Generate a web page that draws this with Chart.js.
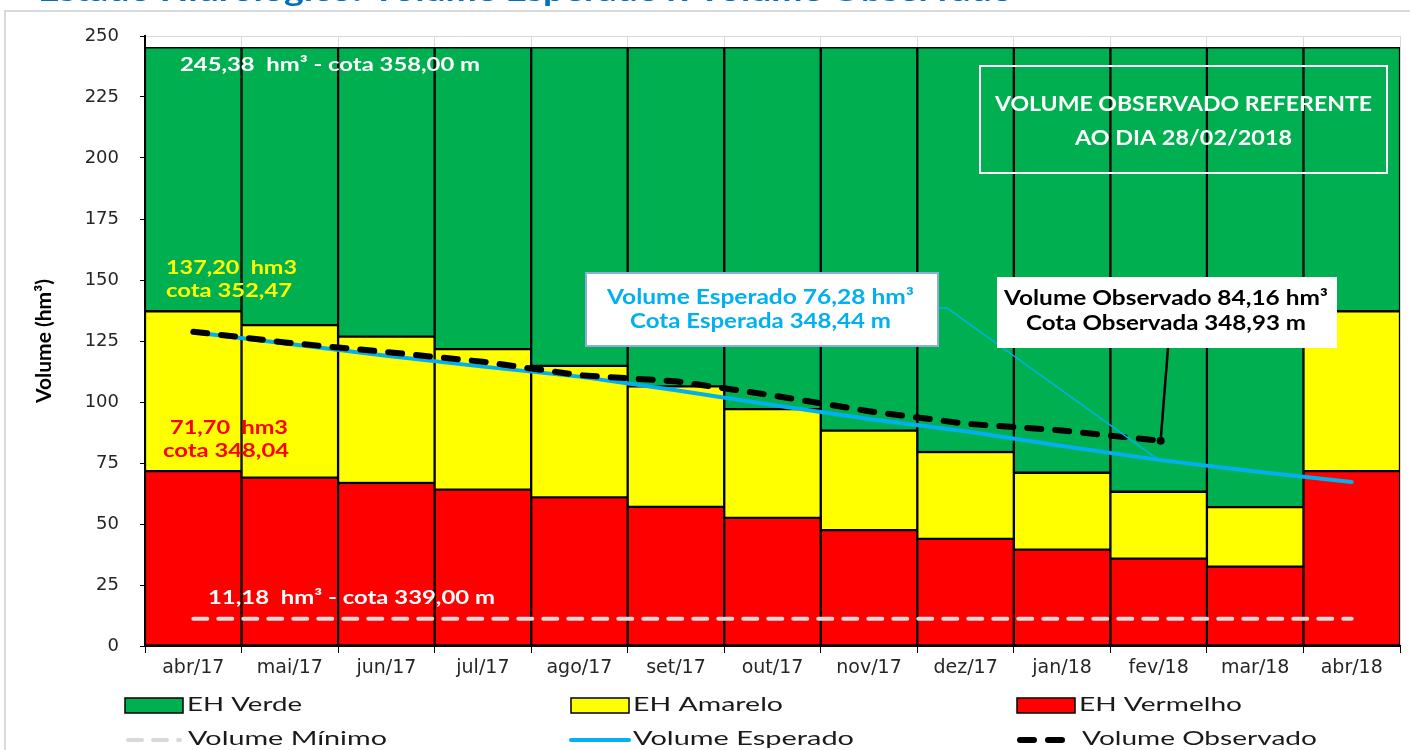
<!DOCTYPE html>
<html lang="pt-BR">
<head>
<meta charset="utf-8">
<title>Volume Esperado x Volume Observado</title>
<script src="https://cdn.jsdelivr.net/npm/chart.js@4.4.1/dist/chart.umd.min.js"></script>
<style>
    html, body { margin: 0; padding: 0; background: #fff; }
    #wrap { position: relative; width: 1410px; height: 750px; }
</style>
</head>
<body>
<div id="wrap"><canvas id="volumeChart"></canvas></div>
<script>
// Dados (hm³)
const meses = ['abr/17', 'mai/17', 'jun/17', 'jul/17', 'ago/17', 'set/17', 'out/17',
               'nov/17', 'dez/17', 'jan/18', 'fev/18', 'mar/18', 'abr/18'];
const topoVermelho = [71.7, 69.0, 66.8, 64.1, 60.9, 57.0, 52.5, 47.5, 43.9, 39.5, 35.8, 32.5, 71.7];
const topoAmarelo  = [137.2, 131.5, 126.8, 121.7, 114.8, 106.4, 97.1, 88.3, 79.5, 71.0, 63.2, 56.9, 137.2];
const topoVerde    = [245.38, 245.38, 245.38, 245.38, 245.38, 245.38, 245.38,
                      245.38, 245.38, 245.38, 245.38, 245.38, 245.38];
const volumeMinimo = [11.18, 11.18, 11.18, 11.18, 11.18, 11.18, 11.18,
                      11.18, 11.18, 11.18, 11.18, 11.18, 11.18];
const volumeEsperado  = [128.6, 123.8, 119.0, 114.5, 110.4, 104.8, 98.8, 93.0, 88.0, 82.0, 76.28, 71.5, 67.2];
const volumeObservado = [128.8, 124.2, 120.5, 116.5, 111.0, 108.5, 102.7, 96.2, 91.1, 88.3, 84.16, null, null];
const IDX_REFERENCIA = 10; // fev/18

const FONT = "'Lato', 'Liberation Sans', sans-serif";
const TICK_FONT = "'DejaVu Sans', Verdana, sans-serif";

const faixa = (base, topo) => topo.map((t, i) => [base ? base[i] : 0, t]);

const barBase = {
    type: 'bar',
    borderColor: '#000',
    borderWidth: 1.5,
    borderSkipped: false,
    barPercentage: 1,
    categoryPercentage: 1,
    grouped: false,
    order: 3
};

// texto com largura ajustada (o original está esticado na horizontal)
function drawText(ctx, text, x, y, width, align, font, color) {
    ctx.save();
    ctx.font = font;
    ctx.fillStyle = color;
    const sx = width ? width / ctx.measureText(text).width : 1;
    ctx.translate(x, y);
    ctx.scale(sx, 1);
    ctx.textAlign = align;
    ctx.textBaseline = 'middle';
    ctx.fillText(text, 0, 0);
    ctx.restore();
}

const decoracao = {
    id: 'decoracao',
    beforeDraw(chart) {
        const ctx = chart.ctx;
        ctx.save();
        ctx.strokeStyle = '#d9d9d9';
        ctx.lineWidth = 2;
        ctx.beginPath();
        ctx.moveTo(5, 750);
        ctx.lineTo(5, 11);
        ctx.lineTo(1410, 11);
        ctx.stroke();
        ctx.restore();
        // título (cortado no topo da imagem)
        ctx.save();
        ctx.font = 'bold 28px ' + FONT;
        ctx.fillStyle = '#0070c0';
        const t = 'Estado Hidrológico: Volume Esperado x Volume Observado';
        const sx = 975 / ctx.measureText(t).width;
        ctx.translate(38, 1);
        ctx.scale(sx, 1);
        ctx.textBaseline = 'alphabetic';
        ctx.fillText(t, 0, 0);
        ctx.restore();
    },
    afterDatasetsDraw(chart) {
        const ctx = chart.ctx;
        const x = chart.scales.x, y = chart.scales.y;
        const bold19 = 'bold 19px ' + FONT;
        const bold20 = 'bold 20px ' + FONT;

        drawText(ctx, '245,38  hm³ - cota 358,00 m', 180, 65, 300, 'left', bold19, '#fff');
        drawText(ctx, '137,20  hm3', 166, 268, 131, 'left', bold19, '#ffff00');
        drawText(ctx, 'cota 352,47', 166, 291, 126, 'left', bold19, '#ffff00');
        drawText(ctx, '71,70  hm3', 170, 428, 118, 'left', bold19, '#ff0000');
        drawText(ctx, 'cota 348,04', 163, 451, 126, 'left', bold19, '#ff0000');
        drawText(ctx, '11,18  hm³ - cota 339,00 m', 208, 598, 287, 'left', bold19, '#fff');

        // caixa verde
        ctx.save();
        ctx.strokeStyle = '#fff';
        ctx.lineWidth = 2;
        ctx.strokeRect(980, 66, 407, 107);
        ctx.restore();
        drawText(ctx, 'VOLUME OBSERVADO REFERENTE', 1183.5, 104, 377, 'center', 'bold 21px ' + FONT, '#fff');
        drawText(ctx, 'AO DIA 28/02/2018', 1183.5, 138, 217, 'center', 'bold 21px ' + FONT, '#fff');

        // chamada - volume esperado
        const ex = x.getPixelForValue(IDX_REFERENCIA);
        const ey = y.getPixelForValue(volumeEsperado[IDX_REFERENCIA]);
        ctx.save();
        ctx.strokeStyle = '#00b0f0';
        ctx.lineWidth = 1.5;
        ctx.beginPath();
        ctx.moveTo(938, 308);
        ctx.lineTo(947, 308);
        ctx.lineTo(ex, ey);
        ctx.stroke();
        ctx.fillStyle = '#fff';
        ctx.fillRect(586, 273, 352, 73);
        ctx.strokeStyle = '#8faadc';
        ctx.lineWidth = 2;
        ctx.strokeRect(586, 273, 352, 73);
        ctx.restore();
        drawText(ctx, 'Volume Esperado 76,28 hm³', 760.5, 298, 307, 'center', bold20, '#00b0f0');
        drawText(ctx, 'Cota Esperada 348,44 m', 760.5, 322, 261, 'center', bold20, '#00b0f0');

        // chamada - volume observado
        const ox = x.getPixelForValue(IDX_REFERENCIA);
        const oy = y.getPixelForValue(volumeObservado[IDX_REFERENCIA]);
        ctx.save();
        ctx.strokeStyle = '#000';
        ctx.fillStyle = '#000';
        ctx.lineWidth = 2.5;
        ctx.beginPath();
        ctx.moveTo(1168, 348);
        ctx.lineTo(ox + 2, oy);
        ctx.stroke();
        ctx.beginPath();
        ctx.arc(ox + 2, oy, 4, 0, Math.PI * 2);
        ctx.fill();
        ctx.fillStyle = '#fff';
        ctx.fillRect(997, 277, 340, 71);
        ctx.restore();
        drawText(ctx, 'Volume Observado 84,16 hm³', 1166, 299, 324, 'center', bold20, '#000');
        drawText(ctx, 'Cota Observada 348,93 m', 1166, 324, 280, 'center', bold20, '#000');
    },
    afterDraw(chart) {
        // legenda em grade 3 x 2
        const ctx = chart.ctx;
        const ds = label => chart.data.datasets.find(d => d.label === label);
        const cols = [125, 571, 1017];
        const font = '19px ' + FONT;
        const caixas = [
            ['EH Verde', 115], ['EH Amarelo', 150], ['EH Vermelho', 163]
        ];
        caixas.forEach(([label, w], i) => {
            const d = ds(label);
            ctx.save();
            ctx.fillStyle = d.backgroundColor;
            ctx.fillRect(cols[i], 698, 58, 15);
            ctx.strokeStyle = '#000';
            ctx.lineWidth = 1.5;
            ctx.strokeRect(cols[i], 698, 58, 15);
            ctx.restore();
            drawText(ctx, label, cols[i] + 62, 705, w, 'left', font, '#1a1a1a');
        });
        const linhas = [
            ['Volume Mínimo', 199, 63], ['Volume Esperado', 221, 62], ['Volume Observado', 235, 65]
        ];
        linhas.forEach(([label, w, off], i) => {
            const d = ds(label);
            ctx.save();
            ctx.strokeStyle = d.borderColor;
            ctx.lineWidth = d.borderWidth;
            ctx.lineCap = d.borderCapStyle || 'butt';
            ctx.setLineDash(d.borderDash || []);
            ctx.beginPath();
            const x0 = cols[i] + (d.borderDash ? 3 : 0);
            ctx.moveTo(x0, 740);
            ctx.lineTo(cols[i] + 58 - (d.borderDash ? 3 : 0), 740);
            ctx.stroke();
            ctx.restore();
            drawText(ctx, label, cols[i] + off, 739, w, 'left', font, '#1a1a1a');
        });
    }
};

const canvas = document.getElementById('volumeChart');
new Chart(canvas.getContext('2d'), {
    type: 'bar',
    data: {
        labels: meses,
        datasets: [
            {
                type: 'line', label: 'Volume Observado', data: volumeObservado,
                borderColor: '#000', borderWidth: 6, borderDash: [14, 14], borderCapStyle: 'round',
                pointRadius: 0, tension: 0, order: 0
            },
            {
                type: 'line', label: 'Volume Esperado', data: volumeEsperado,
                borderColor: '#00b0f0', borderWidth: 4, borderCapStyle: 'round',
                pointRadius: 0, tension: 0, order: 1
            },
            {
                type: 'line', label: 'Volume Mínimo', data: volumeMinimo,
                borderColor: '#d9d9d9', borderWidth: 4, borderDash: [14, 11], borderCapStyle: 'round',
                pointRadius: 0, tension: 0, order: 2
            },
            { ...barBase, label: 'EH Vermelho', data: faixa(null, topoVermelho), backgroundColor: '#ff0000' },
            { ...barBase, label: 'EH Amarelo', data: faixa(topoVermelho, topoAmarelo), backgroundColor: '#ffff00' },
            { ...barBase, label: 'EH Verde', data: faixa(topoAmarelo, topoVerde), backgroundColor: '#00b050' }
        ]
    },
    options: {
        responsive: true,
        maintainAspectRatio: false,
        animation: false,
        layout: { padding: { top: 36, right: 10, bottom: 0, left: 0 } },
        plugins: {
            legend: { display: false },
            tooltip: { enabled: false }
        },
        scales: {
            x: {
                offset: true,
                grid: { color: '#d9d9d9', tickColor: '#000', tickLength: 7, offset: true },
                border: { color: '#000', width: 2 },
                ticks: {
                    font: { family: TICK_FONT, size: 19 }, color: '#262626',
                    padding: 4, maxRotation: 0, autoSkip: false
                },
                afterFit(scale) { scale.height = 104; }
            },
            y: {
                min: 0,
                max: 250,
                ticks: {
                    stepSize: 25,
                    font: { family: TICK_FONT, size: 18 }, color: '#262626',
                    padding: 21
                },
                grid: { color: '#d9d9d9', tickColor: '#000', tickLength: 5 },
                border: { color: '#000', width: 2 },
                title: {
                    display: true,
                    text: 'Volume (hm³)',
                    font: { family: FONT, size: 21, weight: 'bold' },
                    color: '#000',
                    padding: { top: 32, bottom: 0 }
                },
                afterFit(scale) { scale.width = 145; }
            }
        }
    },
    plugins: [decoracao]
});
</script>
</body>
</html>
